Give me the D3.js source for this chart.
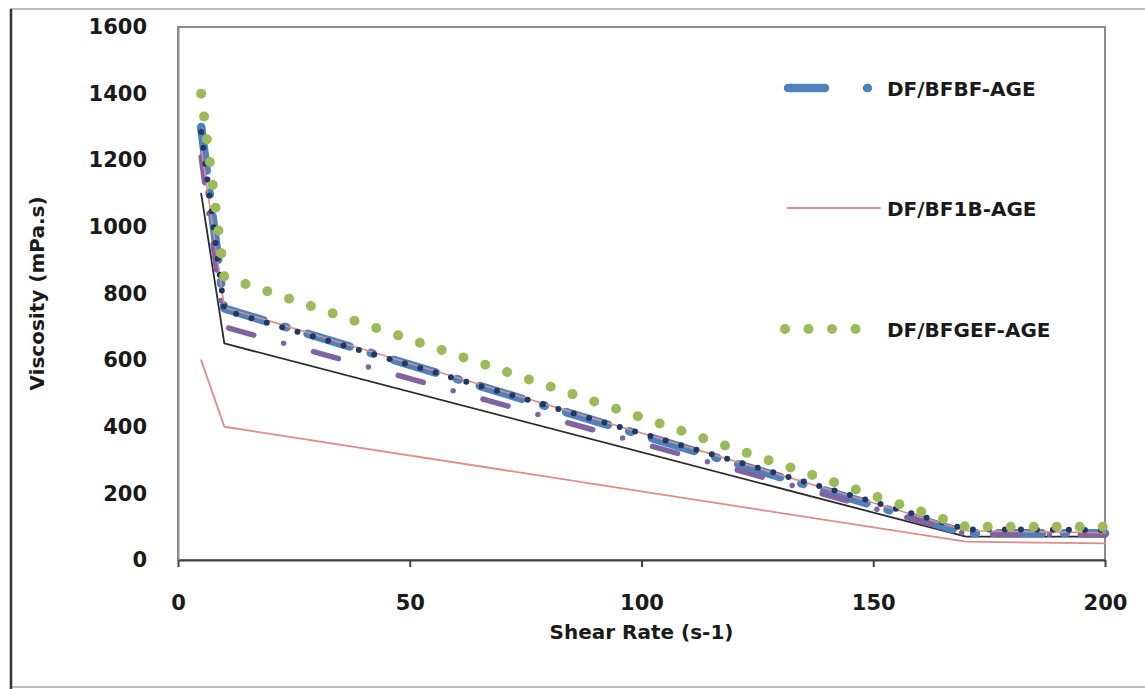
<!DOCTYPE html>
<html>
<head>
<meta charset="utf-8">
<script src="https://cdn.jsdelivr.net/npm/d3@7"></script>
<style>
  body { margin: 0; background: #fff; }
  text { font-family: "DejaVu Sans", sans-serif; font-weight: bold; fill: #1a1a1a; }
</style>
</head>
<body>
<div id="fig"></div>
<script>
// shear rate points (s-1)
var shearRate = [5, 10, 170, 200]

// viscosity (mPa.s) per series
var bfbf   = [1300, 755, 80, 80]    // DF/BFBF-AGE
var bf1b   = [600, 400, 55, 50]     // DF/BF1B-AGE
var bfgef  = [1400, 850, 100, 100]  // DF/BFGEF-AGE
var navy   = [1285, 750, 92, 90]
var purple = [1210, 700, 78, 75]
var pinkUp = [1240, 758, 88, 82]
var black  = [1100, 650, 70, 70]

var xTicks = [0, 50, 100, 150, 200]
var yTicks = [0, 200, 400, 600, 800, 1000, 1200, 1400, 1600]

var legendNames = ["DF/BFBF-AGE", "DF/BF1B-AGE", "DF/BFGEF-AGE"]

var W = 1145, H = 689
var margin = {top: 27, right: 40, bottom: 129, left: 178},
    width = W - margin.left - margin.right,
    height = H - margin.top - margin.bottom;

var svg = d3.select("#fig").append("svg")
    .attr("width", W)
    .attr("height", H)

// outer chart frame
svg.append("rect")
    .attr("x", 11).attr("y", 9)
    .attr("width", 1150).attr("height", 678)
    .attr("fill", "none")
    .attr("stroke", "#a6a6a6")
    .attr("stroke-width", 1.5)
svg.append("line")
    .attr("x1", 11).attr("x2", 11).attr("y1", 9).attr("y2", 689)
    .attr("stroke", "#333").attr("stroke-width", 2.5)

var g = svg.append("g")
    .attr("transform", "translate(" + margin.left + "," + margin.top + ")")

var x = d3.scaleLinear().domain([0, 200]).range([0, width])
var y = d3.scaleLinear().domain([0, 1600]).range([height, 0])

// plot area border
g.append("rect")
    .attr("x", 0).attr("y", 0)
    .attr("width", width).attr("height", height)
    .attr("fill", "none")
    .attr("stroke", "#8c8c8c")
    .attr("stroke-width", 2)

// x axis
var xAxis = g.append("g")
    .attr("transform", "translate(0," + height + ")")
    .call(d3.axisBottom(x).tickValues(xTicks).tickFormat(d3.format("d")).tickSize(7).tickSizeOuter(0).tickPadding(28))
xAxis.select(".domain").attr("stroke", "#404040").attr("stroke-width", 2)
xAxis.selectAll(".tick line").attr("stroke", "#404040").attr("stroke-width", 2)
xAxis.selectAll("text").style("font-size", "21px").style("font-family", "DejaVu Sans").style("font-weight", "bold").attr("fill", "#1a1a1a")

// y axis
var yAxis = g.append("g")
    .call(d3.axisLeft(y).tickValues(yTicks).tickFormat(d3.format("d")).tickSize(0).tickPadding(31))
yAxis.select(".domain").attr("stroke", "#8c8c8c").attr("stroke-width", 2)
yAxis.selectAll("text").style("font-size", "21px").style("font-family", "DejaVu Sans").style("font-weight", "bold").attr("fill", "#1a1a1a")

// axis labels
svg.append("text")
    .attr("x", margin.left + width / 2)
    .attr("y", 639)
    .style("font-size", "20px")
    .style("text-anchor", "middle")
    .text("Shear Rate (s-1)")
svg.append("text")
    .attr("transform", "translate(44," + (margin.top + height / 2) + ") rotate(-90)")
    .style("font-size", "20px")
    .style("text-anchor", "middle")
    .text("Viscosity (mPa.s)")

var line = d3.line()
    .x(function(d) { return x(d[0]) })
    .y(function(d) { return y(d[1]) })

function pts(vals) { return shearRate.map(function(s, i) { return [s, vals[i]] }) }

var series = [
  {vals: black,  color: "#2b2b2b", w: 1.8, dash: null},
  {vals: bf1b,   color: "#e08b8a", w: 1.8, dash: null},
  {vals: bfbf,   color: "#4f81bd", w: 8.5, dash: "44,22,2,22"},
  {vals: purple, color: "#8064a2", w: 5.5, dash: "26,31,0,31"},
  {vals: pinkUp, color: "#e08b8a", w: 1.6, dash: null},
  {vals: navy,   color: "#1f3864", w: 6,   dash: "0,16"},
  {vals: bfgef,  color: "#9bbb59", w: 10,  dash: "0,23"}
]

series.forEach(function(s) {
  g.append("path")
    .datum(pts(s.vals))
    .attr("d", line)
    .attr("fill", "none")
    .attr("stroke", s.color)
    .attr("stroke-width", s.w)
    .attr("stroke-linecap", "round")
    .attr("stroke-linejoin", "round")
    .attr("stroke-dasharray", s.dash)
})

// legend
var legend = svg.append("g")
var leg = [
  {y: 88,  color: "#4f81bd", w: 8.5, dash: "37,42,3,42", x1: 788, x2: 868},
  {y: 208, color: "#e08b8a", w: 1.8, dash: null,         x1: 788, x2: 880},
  {y: 329, color: "#9bbb59", w: 10,  dash: "0,23.5",     x1: 785, x2: 860}
]
leg.forEach(function(l, i) {
  legend.append("line")
    .attr("x1", l.x1).attr("x2", l.x2).attr("y1", l.y).attr("y2", l.y)
    .attr("stroke", l.color)
    .attr("stroke-width", l.w)
    .attr("stroke-linecap", "round")
    .attr("stroke-dasharray", l.dash)
  legend.append("text")
    .attr("x", 887).attr("y", l.y + 8)
    .style("font-size", "20px")
    .text(legendNames[i])
})
</script>
</body>
</html>
